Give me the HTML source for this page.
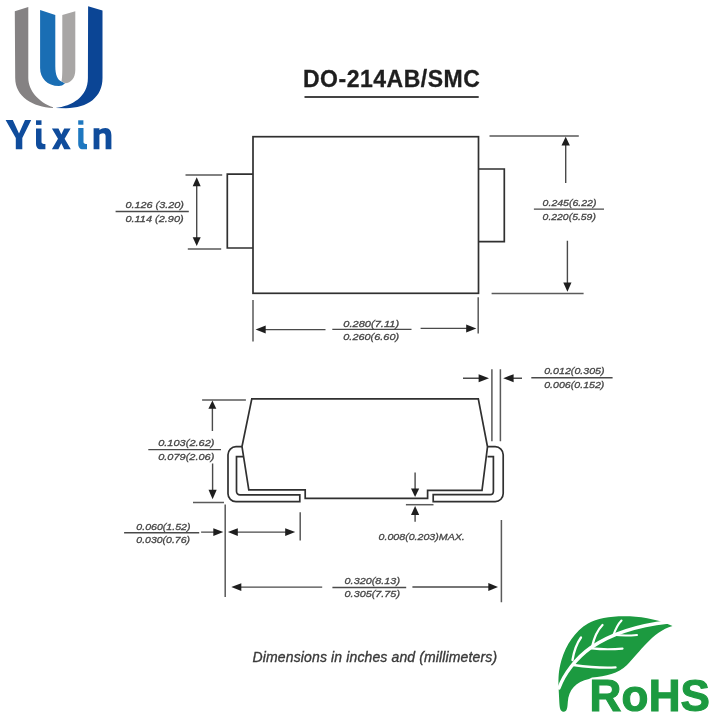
<!DOCTYPE html>
<html><head><meta charset="utf-8">
<style>
html,body{margin:0;padding:0;background:#fff;}
body{width:719px;height:722px;overflow:hidden;position:relative;}
svg{position:absolute;left:0;top:0;display:block;will-change:transform;}
text{font-family:"Liberation Sans",sans-serif;}
.d text{font-style:italic;font-size:9.9px;fill:#454545;stroke:#454545;stroke-width:0.3px;}
</style></head>
<body>
<svg width="719" height="722" viewBox="0 0 719 722">
<!-- LOGO -->
<g id="logo">
  <path d="M14.8,11.2 L28.3,7.1 L28.3,78 C28.3,90 38,102 53,107.3 L53,108 C33,107 15.2,97 15.2,78 Z" fill="#858283"/>
  <path d="M88.1,6.2 L102.5,10.4 L102.5,78 C102.5,97 88,108 66,108.2 L55.5,108 C72,106 87.9,97 87.9,78 Z" fill="#0b4595"/>
  <path d="M40.1,10 L55.3,15 L55.3,66 C55.3,75 57.5,80 61.5,81.5 L65,83.3 C63,85.5 61,86 59,86 C47,86 40.1,78 40.1,68 Z" fill="#1a6eb4"/>
  <path d="M62.3,15 L75.3,11.2 L75.3,70 C75.3,78 71,83 65,83.3 L61.5,81.2 C62,79 62.3,75 62.3,68 Z" fill="#a8a6a5"/>
  <g fill="#0f4c9c">
    <path d="M5.6,120 L12.8,120 L19,133.5 L25,120 L31.2,120 L22.3,138 L22.3,149.3 L15.8,149.3 L15.8,138 Z"/>
    <rect x="36" y="120.3" width="5.5" height="4.6"/>
    <path d="M36,128.6 L41.5,128.6 L41.5,142 C41.5,143.5 42.8,144 45.4,144 L45.4,149.3 L41,149.3 C37.5,149.3 36,147 36,143.5 Z"/>
    <path d="M51.9,128.6 L58.5,128.6 L61.3,134.5 L64.2,128.6 L70.6,128.6 L64.6,138.8 L70.8,149.3 L64.2,149.3 L61.3,143.2 L58.4,149.3 L51.9,149.3 L58,138.8 Z"/>
    <path d="M93.6,128.2 L99.4,128.2 L99.4,130 C101,128.8 103,128 105.5,128 C109.5,128 111.4,130.8 111.4,135.5 L111.4,149.3 L105.6,149.3 L105.6,136.3 C105.6,134.3 104.8,133.2 103,133.2 C101.5,133.2 100,134 99.4,135 L99.4,149.3 L93.6,149.3 Z"/>
  </g>
  <g fill="#1f78c0">
    <rect x="78.2" y="120.3" width="5.2" height="4.4"/>
    <path d="M78.2,128 L83.5,128 L83.5,142 C83.5,143.5 84.8,144 87,144 L87,149.3 L83,149.3 C79.7,149.3 78.2,147 78.2,143.5 Z"/>
  </g>
</g>

<!-- TITLE -->
<text x="303" y="86.6" style="font-weight:bold;font-size:23px;fill:#1e1e1e;stroke:#1e1e1e;stroke-width:0.3px;letter-spacing:0.5px">DO-214AB/SMC</text>
<rect x="304.5" y="96" width="174.2" height="2" fill="#444"/>

<g fill="none" stroke="#303030" stroke-width="1.7" stroke-linejoin="miter">
  <!-- top view -->
  <rect x="253" y="136.7" width="225.5" height="156.6"/>
  <path d="M253,174.2 H227.3 V248 H253"/>
  <path d="M478.5,169 H504.3 V241.6 H478.5"/>
</g>
<g fill="none" stroke="#5a5a5a" stroke-width="1.5">
  <path d="M185.5,175 H222.2 M187.8,248.9 H221.2"/>
  <path d="M489.5,136.1 H578.8 M491.6,293.4 H583.6"/>
  <path d="M253,300 V341.6 M478.2,297.3 V333.5"/>
</g>
<g fill="none" stroke="#4a4a4a" stroke-width="1.4">
  <path d="M196.7,184 V239"/>
  <path d="M565.7,143 V183.1 M567.4,240.8 V284"/>
  <path d="M262,329.6 H325.5 M420.6,328.4 H468"/>
  <path d="M115.6,211.5 H188.8"/>
  <path d="M533.9,209.1 H604"/>
  <path d="M332.3,329.4 H411.5"/>
</g>
<g fill="#1e1e1e">
  <path d="M196.7,177.3 L192.7,186.3 L200.7,186.3 Z"/>
  <path d="M196.7,246.1 L192.7,237.2 L200.7,237.2 Z"/>
  <path d="M565.7,136.8 L561.5,145.5 L569.9,145.5 Z"/>
  <path d="M567.4,291.7 L563.3,282.5 L571.5,282.5 Z"/>
  <path d="M255.6,329.6 L265.7,325.6 L265.7,333.6 Z"/>
  <path d="M476.3,328.4 L466.2,324.4 L466.2,332.4 Z"/>
</g>

<!-- side view -->
<g fill="none" stroke="#303030" stroke-width="1.7" stroke-linejoin="miter">
  <path d="M251.8,398.8 L478.3,398.8 L487.5,446.8 L482,490.3 L427.6,490.3 L427.6,498.3 L305.2,498.3 L305.2,489.8 L248.8,489.8 L242,446.6 Z"/>
  <path d="M242,446.7 L236,446.7 A8,8 0 0 0 228,454.7 L228,493.7 A8,8 0 0 0 236,501.7 L299.8,501.7 L299.8,494.8 L240,494.8 A3.5,3.5 0 0 1 236.5,491.3 L236.5,456.7 L243.5,456.7"/>
  <path d="M487.5,446.7 L495.2,446.7 A8,8 0 0 1 503.2,454.7 L503.2,493.6 A8,8 0 0 1 495.2,501.6 L433.2,501.6 L433.2,494.7 L490,494.7 A3.5,3.5 0 0 0 493.4,491.2 L493.4,456.7 L487.5,456.7"/>
</g>
<g fill="none" stroke="#5a5a5a" stroke-width="1.5">
  <path d="M202.1,400 H245.9 M193,502.5 H224"/>
  <path d="M491.9,369.2 V441.3 M500.4,369.2 V441.3"/>
  <path d="M405.9,504.7 H433.5"/>
  <path d="M225.2,504.6 V597 M300.2,512.2 V540.5 M501.4,520 V602.3"/>
</g>
<g fill="none" stroke="#4a4a4a" stroke-width="1.4">
  <path d="M212.4,406 V431 M212.6,463.5 V492"/>
  <path d="M148.3,449.6 H221"/>
  <path d="M463,378.2 H480 M512,378.2 H522"/>
  <path d="M531.3,377.8 H612.6"/>
  <path d="M415.1,472.5 V490 M415.1,512 V521.8"/>
  <path d="M201.1,532.1 H215 M236,532.1 H288"/>
  <path d="M124.1,532.7 H199.2"/>
  <path d="M238,587.1 H322.2 M412.4,587 H490"/>
  <path d="M332.4,587.5 H406.2"/>
</g>
<g fill="#1e1e1e">
  <path d="M212.4,400.5 L208.4,408.8 L216.3,408.8 Z"/>
  <path d="M212.6,499.3 L208.5,489.8 L216.7,489.8 Z"/>
  <path d="M489,378.2 L478.6,374.2 L478.6,382.2 Z"/>
  <path d="M503.2,378.2 L513.6,374.2 L513.6,382.2 Z"/>
  <path d="M415.1,497 L411,488.4 L419.2,488.4 Z"/>
  <path d="M415.1,505.9 L411,515 L419.2,515 Z"/>
  <path d="M223.3,532.1 L213.3,528.2 L213.3,536 Z"/>
  <path d="M227.9,532.1 L237.8,528.2 L237.8,536 Z"/>
  <path d="M295.2,532.1 L285.2,528.2 L285.2,536 Z"/>
  <path d="M231.3,587.1 L241.3,583.3 L241.3,590.9 Z"/>
  <path d="M498,587 L488.3,583.1 L488.3,590.9 Z"/>
</g>
<g class="d">
<text x="125.4" y="207.6" textLength="58.6" lengthAdjust="spacingAndGlyphs">0.126 (3.20)</text>
<text x="125.4" y="221.6" textLength="58.3" lengthAdjust="spacingAndGlyphs">0.114 (2.90)</text>
<text x="542.6" y="206.4" textLength="53.9" lengthAdjust="spacingAndGlyphs">0.245(6.22)</text>
<text x="542.6" y="219.8" textLength="53.3" lengthAdjust="spacingAndGlyphs">0.220(5.59)</text>
<text x="343.3" y="326.8" textLength="55.8" lengthAdjust="spacingAndGlyphs">0.280(7.11)</text>
<text x="343.3" y="340.0" textLength="55.8" lengthAdjust="spacingAndGlyphs">0.260(6.60)</text>
<text x="158.2" y="445.7" textLength="56.3" lengthAdjust="spacingAndGlyphs">0.103(2.62)</text>
<text x="158.2" y="460.1" textLength="56.2" lengthAdjust="spacingAndGlyphs">0.079(2.06)</text>
<text x="544.2" y="374.1" textLength="60.4" lengthAdjust="spacingAndGlyphs">0.012(0.305)</text>
<text x="544.2" y="388.1" textLength="60.2" lengthAdjust="spacingAndGlyphs">0.006(0.152)</text>
<text x="136.3" y="529.5" textLength="54.2" lengthAdjust="spacingAndGlyphs">0.060(1.52)</text>
<text x="136.3" y="543.1" textLength="53.7" lengthAdjust="spacingAndGlyphs">0.030(0.76)</text>
<text x="378.6" y="539.9" textLength="86.2" lengthAdjust="spacingAndGlyphs">0.008(0.203)MAX.</text>
<text x="344.6" y="583.5" textLength="55.4" lengthAdjust="spacingAndGlyphs">0.320(8.13)</text>
<text x="344.6" y="596.9" textLength="55.4" lengthAdjust="spacingAndGlyphs">0.305(7.75)</text>
</g>
<text x="252.6" y="662.3" style="font-style:italic;font-size:14px;fill:#3a3a3a;letter-spacing:0.13px;stroke:#3a3a3a;stroke-width:0.35px">Dimensions in inches and (millimeters)</text>

<!-- RoHS -->
<g fill="#1c9a40">
  <path d="M672.5,626 C662,621 645,617 630,616.3 C612,615.8 598,617.5 588,623.5 C575,631 566,645 561.5,660 C558.5,670 558.3,678 558.5,686 L559.3,702 C559.6,707 560,711.5 563.5,711.8 C567,712 567.4,708 567.8,702 C568.5,690 576,681.5 589,679 L592,677.5 C606,676.5 618,673.5 627,665 C640,652 652,632 672.5,626 Z"/>
  <text x="589.6" y="711.2" style="font-weight:bold;font-size:44px;letter-spacing:0.2px;stroke:#1c9a40;stroke-width:1.1px">RoHS</text>
</g>
<g fill="none" stroke="#fff" stroke-linecap="round">
  <path d="M559,688 C564,674 576,658 591,647.5 C608,636 632,626 668,622" stroke-width="3.4"/>
  <path d="M572.5,660 C574,651 577,643 581,637.5" stroke-width="2.3"/>
  <path d="M592,647 C594,638 597.5,630 602.5,625" stroke-width="2.3"/>
  <path d="M613,636 C615.5,629 618,624 621.5,620.5" stroke-width="2.1"/>
  <path d="M573.5,665 C588,667 603,668 615.5,667.4" stroke-width="2.4"/>
  <path d="M591.6,648.4 C602,649.5 612,649.5 622.5,648.6" stroke-width="2.2"/>
  <path d="M613.3,634.8 C621,635.8 629,635.8 637,635" stroke-width="2"/>
</g>
</svg>
</body></html>
